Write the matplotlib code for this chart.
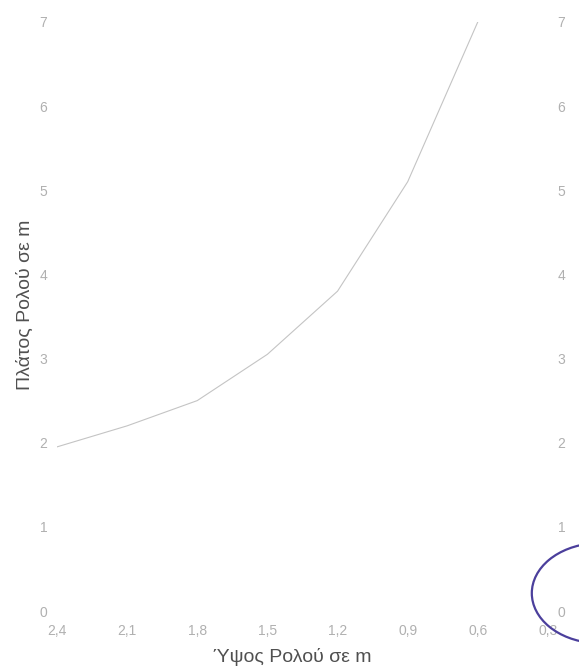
import matplotlib
matplotlib.use("Agg")
from matplotlib import pyplot as plt
from matplotlib.patches import Arc
from matplotlib.ticker import FuncFormatter

# ύψος ρολού (m) και αντίστοιχο πλάτος (m)
ypsos = [2.4, 2.1, 1.8, 1.5, 1.2, 0.9, 0.6]
platos = [1.95, 2.2, 2.5, 3.05, 3.8, 5.1, 7.0]

x_ticks = [2.4, 2.1, 1.8, 1.5, 1.2, 0.9, 0.6, 0.3]
y_ticks = [0, 1, 2, 3, 4, 5, 6, 7]

plt.rcParams['font.family'] = ['Liberation Sans', 'DejaVu Sans']

fig = plt.figure(figsize=(5.79, 6.68), dpi=100)
fig.patch.set_facecolor('white')
ax = fig.add_axes([0.0984, 0.0853, 0.848, 0.882])

ax.plot(ypsos, platos, color='#c4c4c4', lw=0.8)

ax.set_xlim(2.4, 0.3)
ax.set_ylim(0, 7)
ax.set_xticks(x_ticks)
ax.set_yticks(y_ticks)
ax.xaxis.set_major_formatter(FuncFormatter(lambda v, p: ('%.1f' % v).replace('.', ',')))

for s in ax.spines.values():
    s.set_visible(False)
ax.tick_params(axis='both', length=0, labelsize=10, labelcolor='#b0b0b0')
ax.tick_params(axis='y', labelright=True, pad=7)
ax.tick_params(axis='x', pad=9)

ax.set_xlabel('Ύψος Ρολού σε m', fontsize=14, color='#505050')
ax.set_ylabel('Πλάτος Ρολού σε m', fontsize=14, color='#505050')
ax.xaxis.set_label_coords(0.479, -0.063)
ax.yaxis.set_label_coords(-0.048, 0.52)

# σημείωση με στυλό κάτω δεξιά
fig.add_artist(Arc((1.036, 0.112), 0.235, 0.150, theta1=100, theta2=260,
                   transform=fig.transFigure, color='#4b3f9c', lw=1.6, clip_on=False))

fig.savefig('out.png', dpi=100)
